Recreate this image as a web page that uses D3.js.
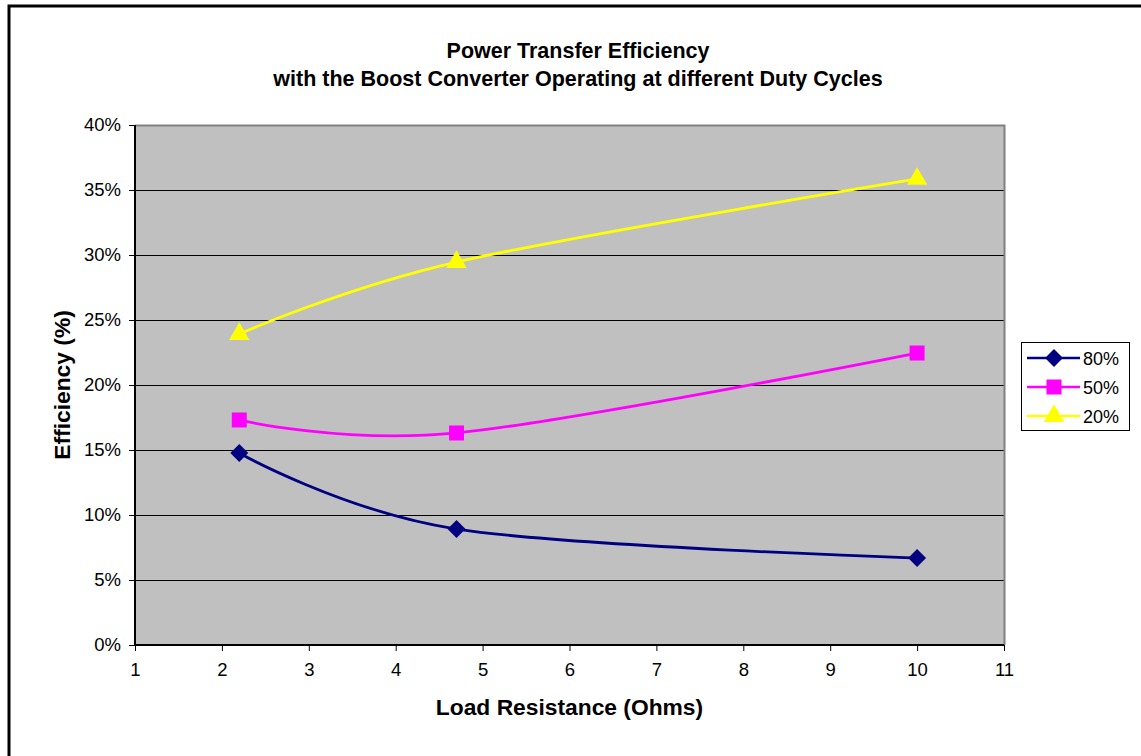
<!DOCTYPE html>
<html>
<head>
<meta charset="utf-8">
<script src="https://cdn.jsdelivr.net/npm/d3@7"></script>
<style>
  body { margin: 0; background: #fff; }
  svg { display: block; font-family: "Liberation Sans", Arial, sans-serif; }
</style>
</head>
<body>
<div id="chart"></div>
<script>
// data
var resistance = [2.2, 4.7, 10];
var duty80 = [0.1477, 0.0892, 0.0669];
var duty50 = [0.1731, 0.1631, 0.2246];
var duty20 = [0.2392, 0.2946, 0.3585];
var seriesNames = ["80%", "50%", "20%"];
var xTicks = [1, 2, 3, 4, 5, 6, 7, 8, 9, 10, 11];
var yTicks = [0, 0.05, 0.1, 0.15, 0.2, 0.25, 0.3, 0.35, 0.4];

var width = 1141,
	height = 756;

var plot = {left: 135, right: 1004, top: 125, bottom: 645};

// diamond = square turned 45 degrees, like the Excel marker
var series = [
	{name: seriesNames[0], values: duty80, color: "#000080", shape: d3.symbolSquare, size: 160, rot: 45},
	{name: seriesNames[1], values: duty50, color: "#ff00ff", shape: d3.symbolSquare, size: 225, rot: 0},
	{name: seriesNames[2], values: duty20, color: "#ffff00", shape: d3.symbolTriangle, size: 180, rot: 0}
];

var svg = d3.select("#chart").append("svg")
	.attr("width", width)
	.attr("height", height);

// outer chart border (runs off the right / bottom of the picture)
svg.append("rect")
	.attr("x", 9).attr("y", 6)
	.attr("width", 1200).attr("height", 900)
	.attr("fill", "#fff")
	.attr("stroke", "#000")
	.attr("stroke-width", 3);

var x = d3.scaleLinear().domain([1, 11]).range([plot.left, plot.right]);
var y = d3.scaleLinear().domain([0, 0.4]).range([plot.bottom, plot.top]);

// plot background
svg.append("rect")
	.attr("x", plot.left).attr("y", plot.top)
	.attr("width", plot.right - plot.left)
	.attr("height", plot.bottom - plot.top)
	.attr("fill", "#c0c0c0");

// gridlines
svg.selectAll("line.grid")
	.data(yTicks.slice(1, -1))
	.enter().append("line")
	.attr("class", "grid")
	.attr("x1", plot.left).attr("x2", plot.right)
	.attr("y1", function(d){ return Math.round(y(d)) + 0.5; })
	.attr("y2", function(d){ return Math.round(y(d)) + 0.5; })
	.attr("stroke", "#000")
	.attr("stroke-width", 1);

// grey top / right frame
svg.append("path")
	.attr("d", "M" + plot.left + "," + (plot.top + 0.5) + "H" + (plot.right + 0.5) + "V" + plot.bottom)
	.attr("fill", "none")
	.attr("stroke", "#808080")
	.attr("stroke-width", 2);

// axes
var xAxis = d3.axisBottom(x).tickValues(xTicks).tickSize(6).tickPadding(12).tickFormat(d3.format("d"));
var yAxis = d3.axisLeft(y).tickValues(yTicks).tickSize(6).tickPadding(8).tickFormat(d3.format(".0%"));

var gx = svg.append("g")
	.attr("transform", "translate(0," + plot.bottom + ")")
	.call(xAxis);
var gy = svg.append("g")
	.attr("transform", "translate(" + plot.left + ",0)")
	.call(yAxis);

[gx, gy].forEach(function(g){
	g.attr("font-size", null).attr("font-family", null);
	g.select(".domain").attr("stroke", "#000").attr("stroke-width", 2);
	g.selectAll(".tick line").attr("stroke", "#000");
	g.selectAll(".tick text")
		.attr("fill", "#000")
		.style("font-size", "18.5px");
});
gx.select(".domain").attr("d", "M" + plot.left + ",0H" + plot.right);
gy.select(".domain").attr("d", "M0," + plot.top + "V" + plot.bottom);

// lines
var line = d3.line()
	.x(function(d){ return x(d[0]); })
	.y(function(d){ return y(d[1]); })
	.curve(d3.curveCardinal.tension(0));

series.forEach(function(s, k){
	var pts = resistance.map(function(r, i){ return [r, s.values[i]]; });
	svg.append("path")
		.datum(pts)
		.attr("d", line)
		.attr("fill", "none")
		.attr("stroke", s.color)
		.attr("stroke-width", 2.8);

	svg.selectAll("path.m" + k)
		.data(pts)
		.enter().append("path")
		.attr("class", "m" + k)
		.attr("d", d3.symbol().type(s.shape).size(s.size))
		.attr("transform", function(d){ return "translate(" + x(d[0]) + "," + y(d[1]) + ") rotate(" + s.rot + ")"; })
		.attr("fill", s.color);
});

// titles
svg.append("text")
	.attr("x", 578).attr("y", 58)
	.attr("text-anchor", "middle")
	.style("font-weight", "bold").style("font-size", "21.5px")
	.text("Power Transfer Efficiency");
svg.append("text")
	.attr("x", 578).attr("y", 86)
	.attr("text-anchor", "middle")
	.style("font-weight", "bold").style("font-size", "21.5px")
	.text("with the Boost Converter Operating at different Duty Cycles");

svg.append("text")
	.attr("x", (plot.left + plot.right) / 2).attr("y", 715)
	.attr("text-anchor", "middle")
	.style("font-weight", "bold").style("font-size", "22.8px")
	.text("Load Resistance (Ohms)");

svg.append("text")
	.attr("transform", "translate(70," + ((plot.top + plot.bottom) / 2) + ") rotate(-90)")
	.attr("text-anchor", "middle")
	.style("font-weight", "bold").style("font-size", "22.8px")
	.text("Efficiency (%)");

// legend
var legend = svg.append("g").attr("transform", "translate(1021,342)");
legend.append("rect")
	.attr("x", 0.5).attr("y", 0.5)
	.attr("width", 108).attr("height", 88)
	.attr("fill", "#fff")
	.attr("stroke", "#000");

series.forEach(function(s, i){
	var ly = 16 + i * 29;
	legend.append("line")
		.attr("x1", 6).attr("x2", 59)
		.attr("y1", ly).attr("y2", ly)
		.attr("stroke", s.color)
		.attr("stroke-width", 2.5);
	legend.append("path")
		.attr("d", d3.symbol().type(s.shape).size(s.size))
		.attr("transform", "translate(33," + ly + ") rotate(" + s.rot + ")")
		.attr("fill", s.color);
	legend.append("text")
		.attr("x", 62).attr("y", ly + 7)
		.style("font-size", "18px")
		.text(s.name);
});
</script>
</body>
</html>
